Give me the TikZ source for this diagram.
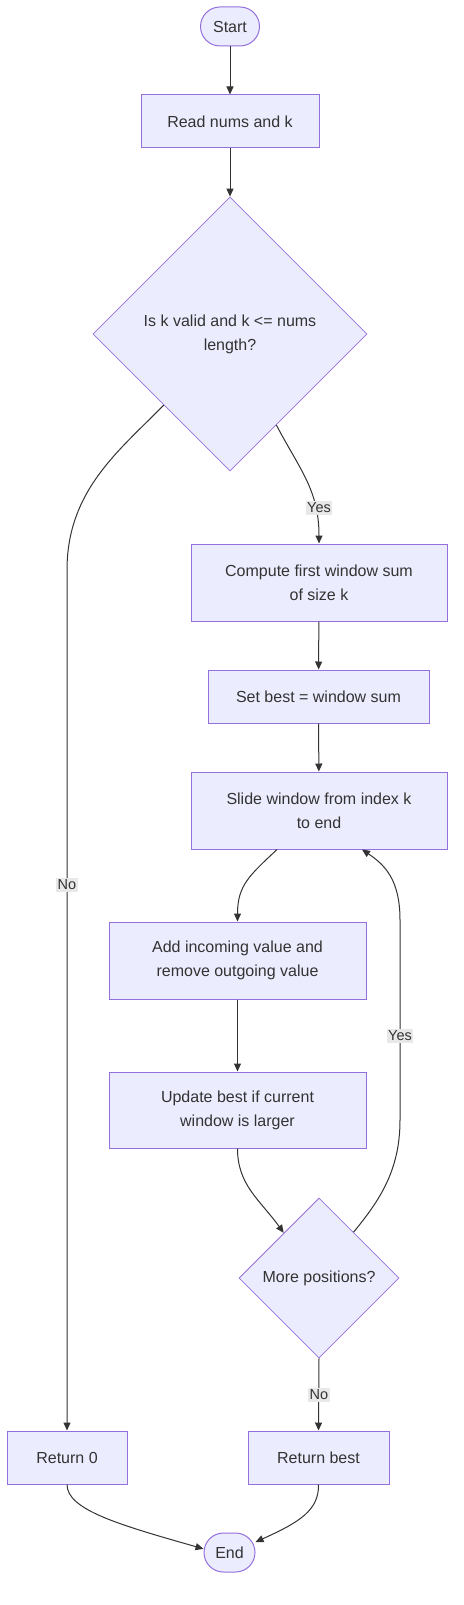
\documentclass[tikz,border=0pt]{standalone}
\usepackage{fontspec}
\setmainfont{Liberation Sans}
\usetikzlibrary{shapes.geometric,arrows.meta}
\definecolor{nodefill}{HTML}{ECECFF}
\definecolor{nodeline}{HTML}{9370DB}
\definecolor{txt}{HTML}{333333}
\definecolor{edge}{HTML}{333333}
\definecolor{lblbg}{HTML}{E8E8E8}
\begin{document}
\begin{tikzpicture}[x=1pt,y=-1pt,
  every node/.style={text=txt,font=\fontsize{16}{24}\selectfont},
  procbox/.style={draw=nodeline,fill=nodefill,line width=1pt,rectangle,inner sep=0pt,align=center},
  termbox/.style={draw=nodeline,fill=nodefill,line width=1pt,rectangle,rounded corners=19.5pt,minimum width=59pt,minimum height=39pt,inner sep=0pt},
  decbox/.style={draw=nodeline,fill=nodefill,line width=0.8pt,diamond,aspect=1,inner sep=0pt,align=center},
  conn/.style={draw=edge,line width=1pt,-{Triangle[length=8pt,width=7pt]}},
  elabel/.style={fill=lblbg,inner sep=1.5pt,font=\fontsize{14.5}{16}\selectfont}
]
\useasboundingbox (0,0) rectangle (463,1605);
\fill[white] (0,0) rectangle (463,1605);

\node[termbox] (start) at (230,26.5) {Start};
\node[procbox,minimum width=178pt,minimum height=53pt] (read) at (230,121.5) {Read nums and k};
\node[decbox,minimum width=274pt,minimum height=274pt] (valid) at (230,334) {Is k valid and k <= nums\\length?};
\node[procbox,minimum width=256pt,minimum height=77pt] (first) at (319,582.5) {Compute first window sum\\of size k};
\node[procbox,minimum width=221pt,minimum height=53pt] (setbest) at (318.5,696.5) {Set best = window sum};
\node[procbox,minimum width=256pt,minimum height=77pt] (slide) at (319,810.5) {Slide window from index k\\to end};
\node[procbox,minimum width=257pt,minimum height=77pt] (addrem) at (237.5,960.5) {Add incoming value and\\remove outgoing value};
\node[procbox,minimum width=257pt,minimum height=76pt] (update) at (237.5,1110) {Update best if current\\window is larger};
\node[decbox,minimum width=160pt,minimum height=160pt] (more) at (319,1278) {More positions?};
\node[procbox,minimum width=120pt,minimum height=53pt] (ret0) at (67,1457.5) {Return 0};
\node[procbox,minimum width=141pt,minimum height=53pt] (retbest) at (318.5,1457.5) {Return best};
\node[termbox,minimum width=51pt] (end) at (229.5,1552.5) {End};

\draw[conn] (start) -- (read);
\draw[conn] (read) -- (valid);
\draw[conn] (valid.-63) .. controls (300,470) and (319,490) .. (first.north);
\draw[conn] (valid.-133) .. controls (120,450) and (67,490) .. (67,570) -- (ret0.north);
\draw[conn] (first) -- (setbest);
\draw[conn] (setbest) -- (slide);
\draw[conn] ([xshift=-42pt]slide.south) .. controls (250,875) and (237.5,885) .. (addrem.north);
\draw[conn] (addrem) -- (update);
\draw[conn] (update.south) .. controls (237.5,1185) and (260,1200) .. (more.128);
\draw[conn] (more.53) .. controls (380,1200) and (400,1170) .. (400,1120) -- (400,920) .. controls (400,880) and (385,865) .. ([xshift=43pt]slide.south);
\draw[conn] (more.south) -- (retbest.north);
\draw[conn] (ret0.south) .. controls (67,1510) and (120,1525) .. (end.172);
\draw[conn] (retbest.south) .. controls (319,1510) and (300,1522) .. (end.22);

\node[elabel] (lyes1) at (319,508) {Yes};
\node[elabel] (lno1) at (67,885) {No};
\node[elabel] (lyes2) at (400,1036) {Yes};
\node[elabel] (lno2) at (319,1395) {No};
\end{tikzpicture}
\end{document}
